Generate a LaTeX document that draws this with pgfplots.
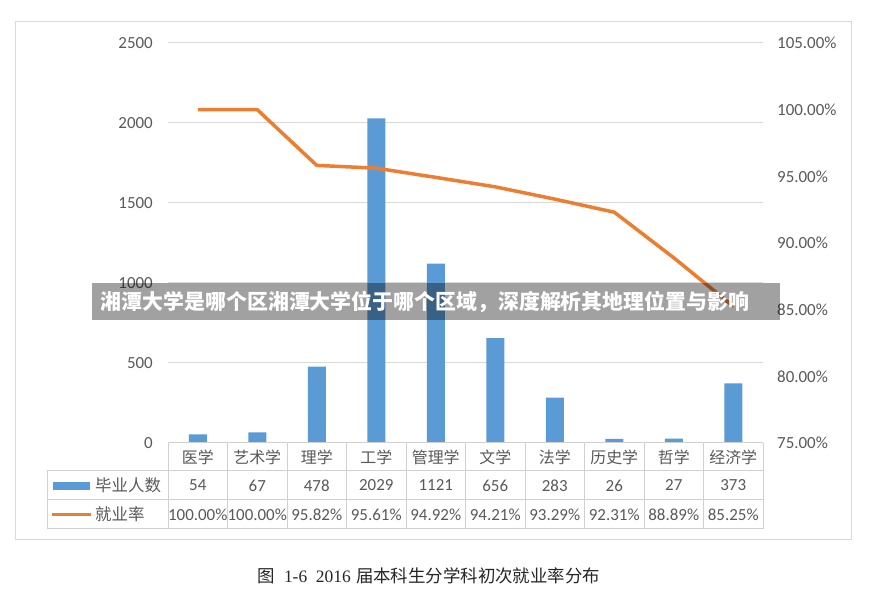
\documentclass[border=0pt]{standalone}
\usepackage{pgfplots}
\pgfplotsset{compat=1.18}
\usepackage{fontspec}
\setmainfont{Carlito}
\newfontfamily\cjk{Noto Sans CJK SC}
\newfontfamily\serifnum{Liberation Serif}
\definecolor{barblue}{HTML}{5B9BD5}
\definecolor{lineorange}{HTML}{ED7D31}
\definecolor{gridgrey}{HTML}{D9D9D9}
\definecolor{labgrey}{HTML}{595959}
\definecolor{tabgrey}{HTML}{D0D0D0}
\begin{document}
\begin{tikzpicture}[x=1bp,y=1bp]
\fill[white] (0,0) rectangle (872,603);
\path[use as bounding box] (0,0) rectangle (872,603);
\draw[gridgrey, line width=1bp] (15,63) rectangle (851,581);

\begin{axis}[
  scale only axis, width=595bp, height=400bp,
  at={(168bp,160bp)}, anchor=south west,
  xmin=-0.5, xmax=9.5, ymin=0, ymax=2500,
  ytick={0,500,...,2500},
  xtick={0,...,9},
  xticklabels={医学,艺术学,理学,工学,管理学,文学,法学,历史学,哲学,经济学},
  xticklabel style={font=\cjk\fontsize{16}{16}\selectfont, text=labgrey, anchor=center, yshift=-14bp},
  yticklabel style={font=\fontsize{17}{17}\selectfont, text=labgrey, anchor=east, inner sep=0pt, xshift=-15bp},
  /pgf/number format/assume math mode=true,
  /pgf/number format/1000 sep={},
  ymajorgrids, grid style={draw=gridgrey, line width=1bp},
  axis line style={draw=none}, tick style={draw=none},
  clip=false,
]
\addplot[ybar, bar width=18bp, fill=barblue, draw=none] coordinates {
  (0,54) (1,67) (2,478) (3,2029) (4,1121) (5,656) (6,283) (7,26) (8,27) (9,373)};
\end{axis}

\begin{axis}[
  scale only axis, width=595bp, height=400bp,
  at={(168bp,160bp)}, anchor=south west,
  xmin=-0.5, xmax=9.5, ymin=75, ymax=105,
  ytick={75,80,...,105},
  axis y line*=right, axis x line=none,
  axis line style={draw=none}, tick style={draw=none},
  yticklabel={\pgfmathprintnumber[fixed, fixed zerofill, precision=2]{\tick}\%},
  yticklabel style={font=\fontsize{17}{17}\selectfont, text=labgrey, anchor=west, inner sep=0pt, xshift=14bp},
  /pgf/number format/assume math mode=true,
  clip=false,
]
\addplot[lineorange, line width=3.5bp, line join=round, mark=none] coordinates {
  (0,100) (1,100) (2,95.82) (3,95.61) (4,94.92) (5,94.21) (6,93.29) (7,92.31) (8,88.89) (9,85.25)};
\end{axis}

% data table
\foreach \k in {0,...,10} \draw[tabgrey, line width=1bp] ({168+59.5*\k},74) -- ({168+59.5*\k},160);
\draw[tabgrey, line width=1bp] (168,160) -- (763,160);
\draw[tabgrey, line width=1bp] (47,132) -- (763,132);
\draw[tabgrey, line width=1bp] (47,103) -- (763,103);
\draw[tabgrey, line width=1bp] (47,74) -- (763,74);
\draw[tabgrey, line width=1bp] (47,74) -- (47,132);

\fill[barblue] (53,113) rectangle (90,121);
\draw[lineorange, line width=3.5bp] (52,88.5) -- (91,88.5);
\node[anchor=west, inner sep=0pt, text=labgrey, font=\cjk\fontsize{16.5}{16.5}\selectfont] at (95,117.5) {毕业人数};
\node[anchor=west, inner sep=0pt, text=labgrey, font=\cjk\fontsize{16.5}{16.5}\selectfont] at (95,88.5) {就业率};

\foreach \v [count=\i from 0] in {54,67,478,2029,1121,656,283,26,27,373}
  \node[text=labgrey, inner sep=0pt, font=\fontsize{17}{17}\selectfont] at ({168+59.5*(\i+0.5)},117.5) {\v};
\foreach \v [count=\i from 0] in {100.00\%,100.00\%,95.82\%,95.61\%,94.92\%,94.21\%,93.29\%,92.31\%,88.89\%,85.25\%}
  \node[text=labgrey, inner sep=0pt, font=\fontsize{17}{17}\selectfont] at ({168+59.5*(\i+0.5)},88.5) {\v};

% banner
\fill[black, opacity=0.37] (92,283) rectangle (780,320);
\node[text=white, font=\cjk\bfseries\fontsize{21}{21}\selectfont] at (425,301.5) {湘潭大学是哪个区湘潭大学位于哪个区域，深度解析其地理位置与影响};

% caption
\node[text=black!85, font=\cjk\fontsize{17.5}{17.5}\selectfont] at (429,27) {图\hspace{0.5em}{\serifnum 1-6}\hspace{0.5em}{\serifnum 2016}\hspace{0.3em}届本科生分学科初次就业率分布};
\end{tikzpicture}
\end{document}
